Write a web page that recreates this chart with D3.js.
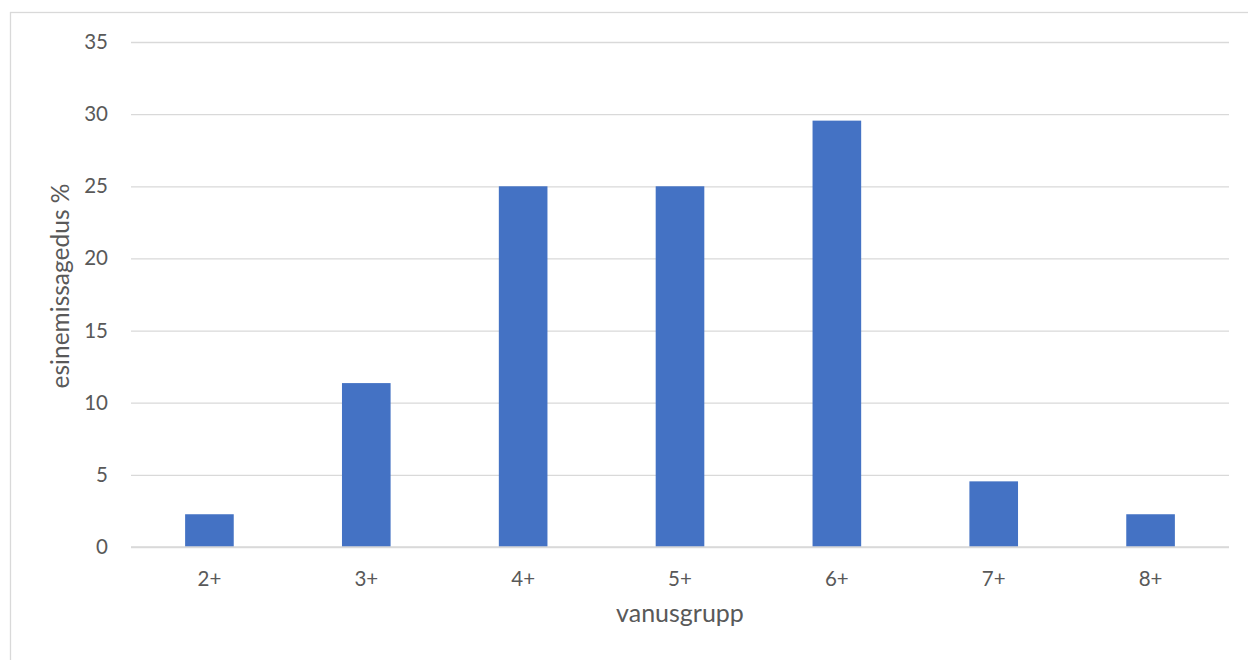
<!DOCTYPE html>
<html>
<head>
<meta charset="utf-8">
<script src="https://cdn.jsdelivr.net/npm/d3@7"></script>
<style>
  html, body { margin: 0; padding: 0; background: #fff; }
  svg { display: block; }
  text { font-family: Lato, "Open Sans", sans-serif; fill: #595959; }
</style>
</head>
<body>
<svg id="chart" width="1248" height="660"></svg>
<script>
// Age groups and share of occurrences (%)
const categories = ["2+", "3+", "4+", "5+", "6+", "7+", "8+"];
const values = [2.27, 11.36, 25.0, 25.0, 29.55, 4.55, 2.27];
const yTicks = [0, 5, 10, 15, 20, 25, 30, 35];
const xTitle = "vanusgrupp";
const yTitle = "esinemissagedus %";

const svg = d3.select("#chart");
const W = 1248, H = 660;
const plot = { left: 131, right: 1229, top: 42, bottom: 547 };

// chart frame
svg.append("rect")
  .attr("x", 10.5).attr("y", 12.5)
  .attr("width", W).attr("height", H)
  .attr("fill", "#fff").attr("stroke", "#d9d9d9").attr("stroke-width", 1.3);

const x = d3.scaleBand()
  .domain(categories)
  .range([plot.left, plot.right])
  .paddingInner(0.69)
  .paddingOuter(0.345);

const y = d3.scaleLinear()
  .domain([0, 35])
  .range([plot.bottom, plot.top]);

// horizontal gridlines + y tick labels
const yAxis = d3.axisLeft(y)
  .tickValues(yTicks)
  .tickSize(-(plot.right - plot.left))
  .tickPadding(23)
  .tickFormat(d3.format("d"));

const gy = svg.append("g")
  .attr("transform", `translate(${plot.left},0)`)
  .call(yAxis);
gy.select(".domain").remove();
gy.selectAll(".tick line").attr("stroke", "#d9d9d9").attr("stroke-width", 1.3);
gy.selectAll(".tick text")
  .attr("font-size", 20.5)
  .attr("fill", "#595959")
  .attr("font-family", "Lato, sans-serif");

// bars
svg.append("g")
  .selectAll("rect")
  .data(values)
  .join("rect")
  .attr("x", (d, i) => x(categories[i]))
  .attr("y", d => y(d))
  .attr("width", x.bandwidth())
  .attr("height", d => y(0) - y(d))
  .attr("fill", "#4472c4");

// baseline (category axis)
const xAxis = d3.axisBottom(x).tickSize(0).tickPadding(24);
const gx = svg.append("g")
  .attr("transform", `translate(0,${plot.bottom})`)
  .call(xAxis);
gx.select(".domain").attr("stroke", "#d9d9d9").attr("stroke-width", 1.3)
  .attr("d", `M${plot.left},0H${plot.right}`);
gx.selectAll(".tick text")
  .attr("font-size", 20.5)
  .attr("fill", "#595959")
  .attr("font-family", "Lato, sans-serif");

// axis titles
svg.append("text")
  .attr("x", (plot.left + plot.right) / 2)
  .attr("y", 622)
  .attr("text-anchor", "middle")
  .attr("font-size", 25)
  .text(xTitle);

svg.append("text")
  .attr("transform", "translate(69,286) rotate(-90)")
  .attr("text-anchor", "middle")
  .attr("font-size", 24.5)
  .text(yTitle);
</script>
</body>
</html>
